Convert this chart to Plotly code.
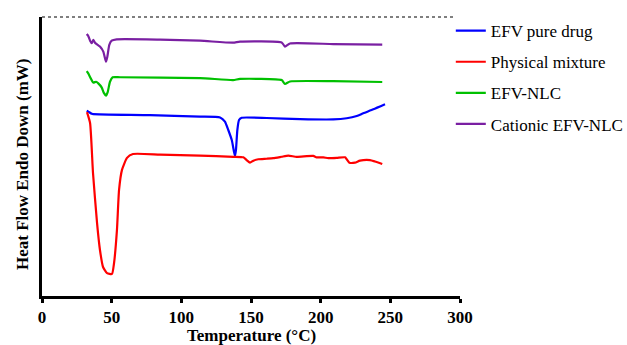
import plotly.graph_objects as go

# EFV pure drug
t_blue = [32.1, 33.2, 35.7, 36.8, 77.5, 113.4, 127.8, 131.3, 133.7, 136.2, 137.8, 138.5, 139.2, 140.2, 141.4, 143.3, 161.3, 185.2, 209.1, 218.7, 225.9, 230.6, 237.8, 246.2]
h_blue = [66.4, 66.1, 65.3, 65.2, 64.8, 64.3, 64.0, 62.5, 59.5, 55.9, 51.7, 50.2, 52.3, 59.5, 63.1, 63.9, 63.8, 63.4, 63.3, 63.7, 64.5, 65.5, 66.9, 68.7]

# Physical mixture
t_red = [32.3, 34.5, 36.6, 39.5, 41.6, 43.8, 46.7, 50.2, 51.7, 53.8, 55.3, 57.4, 61.0, 65.3, 84.7, 113.4, 137.3, 144.5, 146.9, 149.3, 151.7, 155.2, 161.3, 166.0, 172.0, 176.8, 182.8, 194.7, 197.1, 201.9, 205.5, 211.5, 217.5, 218.7, 220.6, 224.6, 228.2, 235.4, 239.0, 244.2]
h_red = [65.9, 62.0, 44.1, 26.2, 16.5, 10.4, 8.2, 7.9, 11.8, 23.7, 38.0, 45.2, 49.5, 50.9, 50.7, 50.3, 49.9, 49.7, 48.7, 47.8, 48.5, 49.0, 49.2, 49.4, 49.9, 50.3, 49.9, 50.2, 49.7, 49.7, 49.4, 49.5, 49.7, 49.0, 47.8, 47.8, 48.5, 48.7, 48.2, 47.3]

# EFV-NLC
t_green = [32.1, 33.2, 35.0, 36.8, 38.8, 40.4, 42.8, 44.5, 45.9, 47.2, 48.8, 50.7, 56.0, 113.4, 137.1, 142.1, 172.0, 174.4, 178.0, 209.0, 244.2]
h_green = [80.6, 79.8, 78.0, 76.5, 76.8, 76.2, 74.8, 72.7, 71.8, 73.2, 76.8, 78.4, 78.4, 78.1, 77.4, 77.8, 77.4, 76.0, 76.9, 77.0, 76.7]

# Cationic EFV-NLC
t_purple = [32.1, 33.2, 34.5, 35.7, 36.8, 38.0, 41.6, 44.0, 45.9, 46.9, 48.3, 50.0, 53.6, 84.7, 113.4, 137.1, 142.1, 172.0, 174.4, 178.0, 209.0, 244.2]
h_purple = [93.9, 93.2, 91.5, 90.6, 91.8, 90.8, 89.4, 87.6, 84.0, 85.8, 90.0, 91.5, 92.0, 91.9, 91.5, 90.8, 91.2, 90.9, 89.4, 90.5, 90.3, 90.1]

names = ["EFV pure drug", "Physical mixture", "EFV-NLC", "Cationic EFV-NLC"]
colors = ["#0000ff", "#ff0000", "#00c000", "#7a1fa2"]
xs = [t_blue, t_red, t_green, t_purple]
ys = [h_blue, h_red, h_green, h_purple]

x_ticks = [0, 50, 100, 150, 200, 250, 300]
x_tick_labels = [str(v) for v in x_ticks]
x_title = "Temperature (°C)"
y_title = "Heat Flow Endo Down (mW)"

FONT = "Liberation Serif"

fig = go.Figure()
for i, (n, c, x, y) in enumerate(zip(names, colors, xs, ys)):
    fig.add_trace(go.Scatter(x=x, y=y, mode="lines", name=n, legendgroup=f"g{i}",
                             line=dict(color=c, width=2.2, shape="spline", smoothing=0.5)))

fig.update_layout(
    width=627, height=345,
    margin=dict(l=42, r=167, t=17, b=49, autoexpand=False),
    plot_bgcolor="white", paper_bgcolor="white",
    font=dict(family=FONT, color="black"),
    showlegend=True,
    legend=dict(x=0.978, y=1.014, xanchor="left", yanchor="top",
                font=dict(family=FONT, size=17, color="black"),
                itemwidth=30, tracegroupgap=6, bgcolor="rgba(0,0,0,0)"),
    xaxis=dict(range=[0, 300], tickvals=x_ticks,
               ticktext=[f"<b>{t}</b>" for t in x_tick_labels],
               ticks="outside", ticklen=4, tickwidth=2.5,
               tickcolor="black", showline=True, linecolor="black", linewidth=3,
               showgrid=False, zeroline=False, automargin=False,
               tickfont=dict(family=FONT, size=17, color="black")),
    yaxis=dict(range=[0, 100], showticklabels=False, ticks="", showline=True,
               linecolor="black", linewidth=3, showgrid=False, zeroline=False, automargin=False),
    shapes=[dict(type="line", xref="paper", yref="paper", x0=0, x1=0.99, y0=1, y1=1,
                 line=dict(color="#555555", width=1.5, dash="dot"))],
    annotations=[
        dict(text=f"<b>{x_title}</b>", xref="paper", yref="paper", x=0.5, y=-0.143,
             xanchor="center", yanchor="middle", showarrow=False,
             font=dict(family=FONT, size=17, color="black")),
        dict(text=f"<b>{y_title}</b>", xref="paper", yref="paper", x=-0.0478, y=0.473,
             xanchor="center", yanchor="middle", showarrow=False, textangle=-90,
             font=dict(family=FONT, size=17, color="black")),
    ],
)

fig.write_html("out.html")
